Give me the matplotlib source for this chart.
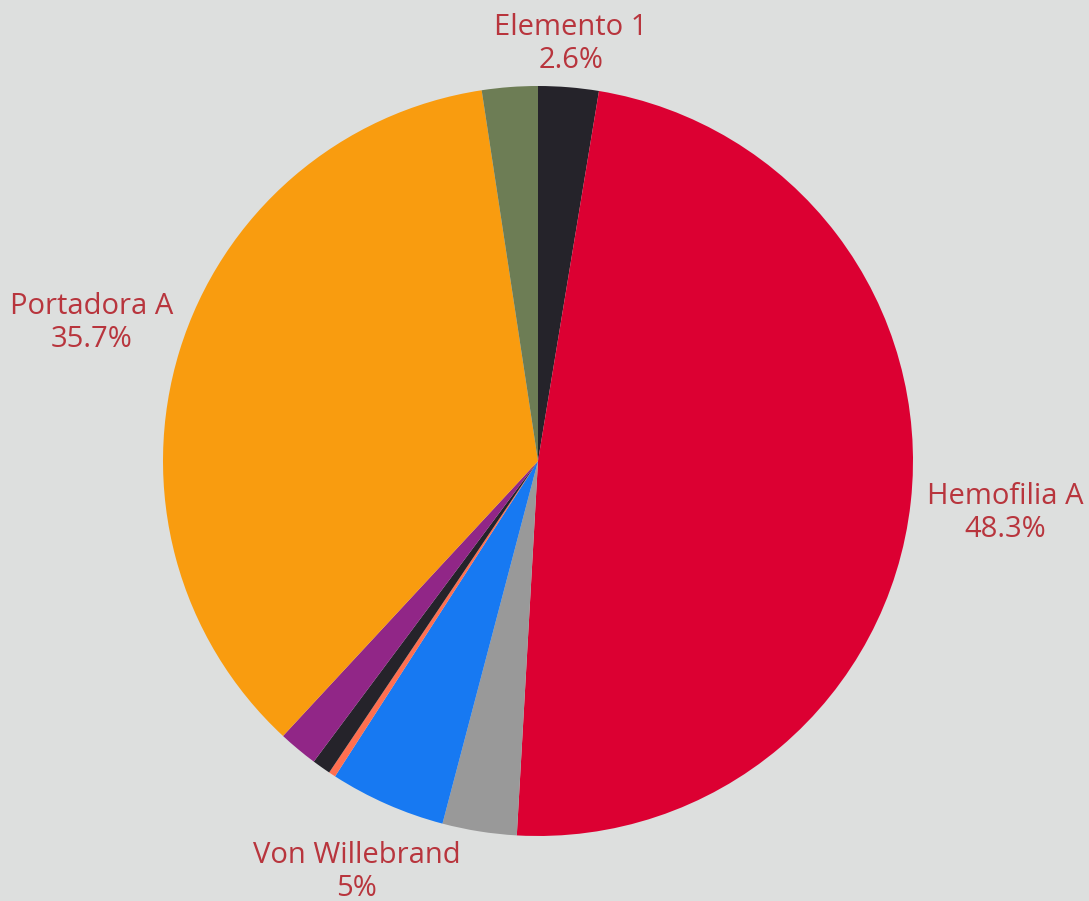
import matplotlib
matplotlib.use("Agg")
import matplotlib.pyplot as plt

# Slice data, clockwise from 12 o'clock
labels = ['Elemento 1', 'Hemofilia A', 'Otro 1', 'Von Willebrand', 'Otro 2',
          'Otro 3', 'Otro 4', 'Portadora A', 'Otro 5']
values = [2.6, 48.3, 3.2, 5.0, 0.3, 0.8, 1.7, 35.7, 2.4]
colors = ['#25232a', '#dc0032', '#999999', '#1779f2', '#ff6f50',
          '#25232a', '#912687', '#f99c0f', '#6d7d55']

# only these get an outside label
shown = {'Elemento 1': (571, 44), 'Hemofilia A': (1005, 513),
         'Portadora A': (92, 323), 'Von Willebrand': (357, 872)}
shown_text = {'Elemento 1': '2.6%', 'Hemofilia A': '48.3%',
              'Portadora A': '35.7%', 'Von Willebrand': '5%'}

W, H = 1089, 901
bg = '#dddfde'
fig = plt.figure(figsize=(W / 100, H / 100), dpi=100, facecolor=bg)
ax = fig.add_axes([0, 0, 1, 1])
ax.set_facecolor(bg)

ax.pie(values, colors=colors, startangle=90, counterclock=False,
       center=(538, H - 461), radius=375, frame=True,
       wedgeprops=dict(linewidth=0))
ax.set_xlim(0, W)
ax.set_ylim(0, H)
ax.set_aspect('equal')
ax.axis('off')

for name, (x, y) in shown.items():
    ax.text(x, H - y, name + '\n' + shown_text[name], ha='center', va='center',
            fontsize=21, family='Open Sans', color='#b8353d', linespacing=1.15)

fig.savefig('out.png', dpi=100, facecolor=bg)
